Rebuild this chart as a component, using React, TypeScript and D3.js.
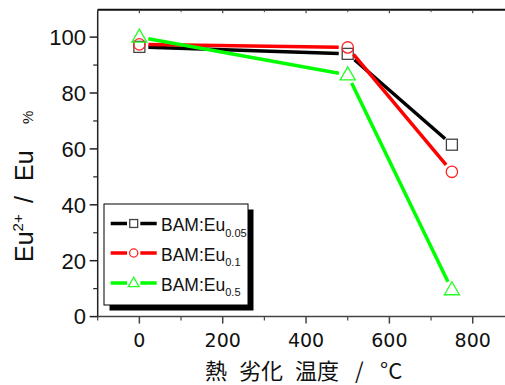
import React from "react";
import * as d3 from "d3";

const temps = [0, 500, 750];
const eu005 = [96.5, 94, 61.5];
const eu01 = [97.4, 96.3, 51.8];
const eu05 = [100, 86.5, 9.6];
const xTicks = [0, 200, 400, 600, 800];
const xMinor = [-100, 100, 300, 500, 700, 900];
const yTicks = [0, 20, 40, 60, 80, 100];
const yMinor = [10, 30, 50, 70, 90];
const seriesNames = ["0.05", "0.1", "0.5"];
const seriesColors = ["#000000", "#ff0000", "#00ff00"];
const markerStroke = ["#444444", "#ff2222", "#22ff22"];
const markerTypes = ["square", "circle", "triangle"];

const W = 505;
const H = 385;
const left = 97.7;
const top = 9.7;
const bottom = 316.6;

const x = d3.scaleLinear().domain([-100, 900]).range([left, left + 416.7]);
const y = d3.scaleLinear().domain([0, 110]).range([bottom, bottom - 110 * 2.795]);

function Marker({ type, cx, cy, s, color }: { type: string; cx: number; cy: number; s: number; color: string }) {
  if (type === "square") {
    return <rect x={cx - 5.5 * s} y={cy - 5.5 * s} width={11 * s} height={11 * s} fill="none" stroke={color} strokeWidth={1.3} />;
  }
  if (type === "circle") {
    return <circle cx={cx} cy={cy} r={5.7 * s} fill="none" stroke={color} strokeWidth={1.3} />;
  }
  const pts = [
    [cx, cy - 8 * s],
    [cx + 7.5 * s, cy + 5 * s],
    [cx - 7.5 * s, cy + 5 * s],
  ];
  return <polygon points={pts.map((p) => p.join(",")).join(" ")} fill="none" stroke={color} strokeWidth={1.3} />;
}

function gapSegments(pts: [number, number][], gap: number) {
  const segs: [number, number, number, number][] = [];
  for (let i = 0; i < pts.length - 1; i++) {
    const [x1, y1] = pts[i];
    const [x2, y2] = pts[i + 1];
    const len = Math.hypot(x2 - x1, y2 - y1);
    const ux = (x2 - x1) / len;
    const uy = (y2 - y1) / len;
    segs.push([x1 + ux * gap, y1 + uy * gap, x2 - ux * gap, y2 - uy * gap]);
  }
  return segs;
}

export default function App() {
  const series = [eu005, eu01, eu05];
  const legendX = 104;
  const legendY = 204;
  const legendW = 144;
  const legendH = 101;
  const rowY = [223.5, 253, 283];
  return (
    <svg width={W} height={H} style={{ position: "absolute", left: 0, top: 0, background: "#fff" }}>
      {/* axes */}
      <line x1={left} x2={W} y1={top} y2={top} stroke="#111" strokeWidth={2} />
      <line x1={left} x2={W} y1={bottom} y2={bottom} stroke="#444" strokeWidth={1.5} />
      <line x1={left} x2={left} y1={top} y2={bottom} stroke="#222" strokeWidth={1.5} />
      {xTicks.map((t) => (
        <g key={"xt" + t}>
          <line x1={x(t)} x2={x(t)} y1={bottom} y2={bottom + 7} stroke="#444" strokeWidth={1.5} />
          <line x1={x(t)} x2={x(t)} y1={top} y2={top + 3.5} stroke="#444" strokeWidth={1.2} />
          <text x={x(t)} y={346.5} textAnchor="middle" fontFamily="DejaVu Sans" fontSize={19} fill="#111">
            {t}
          </text>
        </g>
      ))}
      {xMinor.map((t) => (
        <g key={"xm" + t}>
          <line x1={x(t)} x2={x(t)} y1={bottom} y2={bottom + 4} stroke="#444" strokeWidth={1.2} />
          <line x1={x(t)} x2={x(t)} y1={top} y2={top + 2.5} stroke="#444" strokeWidth={1} />
        </g>
      ))}
      {yTicks.map((t) => (
        <g key={"yt" + t}>
          <line x1={left - 8} x2={left} y1={y(t)} y2={y(t)} stroke="#222" strokeWidth={1.5} />
          <text x={86} y={y(t) + 7.8} textAnchor="end" fontFamily="Liberation Sans" fontSize={22} fill="#111">
            {t}
          </text>
        </g>
      ))}
      {yMinor.map((t) => (
        <line key={"ym" + t} x1={left - 4.5} x2={left} y1={y(t)} y2={y(t)} stroke="#222" strokeWidth={1.2} />
      ))}

      {/* series */}
      {series.map((vals, si) => {
        const pts = vals.map((v, i) => [x(temps[i]), y(v)] as [number, number]);
        return (
          <g key={"s" + si}>
            {gapSegments(pts, 9).map((s, i) => (
              <line key={i} x1={s[0]} y1={s[1]} x2={s[2]} y2={s[3]} stroke={seriesColors[si]} strokeWidth={3.5} />
            ))}
            {pts.map((p, i) => (
              <Marker key={"m" + i} type={markerTypes[si]} cx={p[0]} cy={p[1]} s={1} color={markerStroke[si]} />
            ))}
          </g>
        );
      })}

      {/* legend */}
      <rect x={legendX + 5.5} y={legendY + 5.5} width={legendW} height={legendH} fill="#000" />
      <rect x={legendX} y={legendY} width={legendW} height={legendH} fill="#fff" stroke="#000" strokeWidth={1} />
      {seriesNames.map((n, i) => (
        <g key={"l" + i}>
          <line x1={110.7} x2={127} y1={rowY[i]} y2={rowY[i]} stroke={seriesColors[i]} strokeWidth={3.5} />
          <line x1={140.3} x2={156.7} y1={rowY[i]} y2={rowY[i]} stroke={seriesColors[i]} strokeWidth={3.5} />
          <Marker type={markerTypes[i]} cx={133.7} cy={rowY[i]} s={0.72} color={markerStroke[i]} />
          <text x={161} y={rowY[i] + 7.8} fontFamily="Liberation Sans" fontSize={17.5} fill="#111">
            BAM:Eu
            <tspan fontSize={11} dy={5.5}>
              {n}
            </tspan>
          </text>
        </g>
      ))}

      {/* y label */}
      <text transform="translate(33,0) rotate(-90)" fontFamily="Liberation Sans" fontSize={25} fill="#111">
        <tspan x={-262}>Eu</tspan>
        <tspan fontSize={15} dy={-10}>2+</tspan>
        <tspan x={-203} dy={10}>/</tspan>
        <tspan x={-181}>Eu</tspan>
        <tspan x={-124} fontSize={15}>%</tspan>
      </text>

      {/* x label */}
      <text y={379} fontFamily="Noto Sans CJK JP" fontSize={22} fill="#111">
        <tspan x={205}>熱</tspan>
        <tspan x={239}>劣化</tspan>
        <tspan x={295}>温度</tspan>
        <tspan x={355}>/</tspan>
        <tspan x={380}>°C</tspan>
      </text>
    </svg>
  );
}
